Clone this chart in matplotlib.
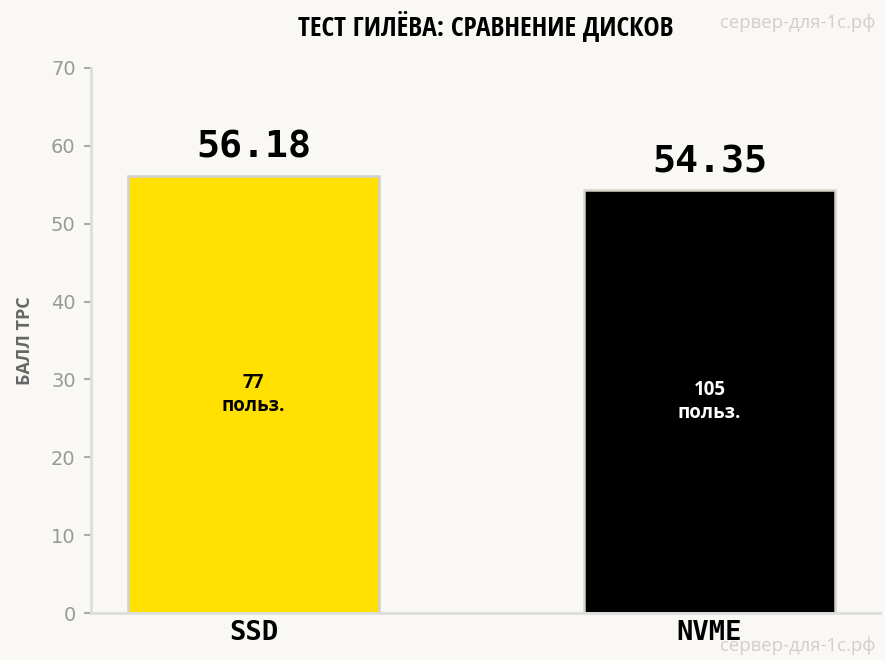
import matplotlib
matplotlib.use("Agg")
import matplotlib.pyplot as plt
from matplotlib import font_manager

# data
categories = ["SSD", "NVME"]
scores = [56.18, 54.35]
users = [77, 105]
bar_colors = ["#FFE000", "#000000"]
text_colors = ["#000000", "#FFFFFF"]
edge_colors = ["#cfcfcf", "#d6d3c9"]

bg = "#f9f8f5"
watermark = "сервер-для-1с.рф"

# pick a narrow face if one is installed
installed = {f.name for f in font_manager.fontManager.ttflist}
narrow = next((n for n in ["Liberation Sans Narrow", "Open Sans Condensed",
                           "DejaVu Sans Condensed", "Roboto Condensed"]
               if n in installed), "DejaVu Sans")
cond_stretch = [f for f in font_manager.fontManager.ttflist
                if f.name == "DejaVu Sans" and f.stretch == "condensed"]
if narrow == "DejaVu Sans" and not cond_stretch:
    narrow = "Roboto"

fig = plt.figure(figsize=(8.85, 6.6), dpi=100, facecolor=bg)
ax = fig.add_axes([0.1028, 0.0712, 0.8916, 0.8258])
ax.set_facecolor(bg)

x = list(range(len(categories)))
ax.bar(x, scores, width=0.55, color=bar_colors,
       edgecolor=edge_colors, linewidth=1.8, zorder=2)

for xi, s, u, tc in zip(x, scores, users, text_colors):
    ax.annotate(f"{s:.2f}", (xi, s), xytext=(0, 7), textcoords="offset points",
                ha="center", va="bottom", fontsize=27.5, fontweight="bold",
                family=["DejaVu Sans Mono"], color="#000000")
    ax.text(xi, s / 2, f"{u}\nпольз.", ha="center", va="center",
            fontsize=13.5, fontweight="bold", color=tc,
            family=["Open Sans", "DejaVu Sans"], linespacing=1.2)

ax.set_xlim(-0.356, 1.374)
ax.set_ylim(0, 70)
ax.set_yticks(range(0, 71, 10))
ax.set_xticks(x)
ax.set_xticklabels(categories, fontsize=19.5, fontweight="bold",
                   family=["DejaVu Sans Mono"])
for lbl in ax.get_yticklabels():
    lbl.set_fontsize(14)
    lbl.set_color("#999999")

ax.tick_params(axis="y", length=5, width=1.5, color="#aaaaaa", pad=6)
ax.tick_params(axis="x", length=0, pad=5)

for side in ["top", "right"]:
    ax.spines[side].set_visible(False)
for side in ["left", "bottom"]:
    ax.spines[side].set_color("#dedede")
    ax.spines[side].set_linewidth(2)

ax.set_ylabel("БАЛЛ TPC", fontsize=13, fontweight="bold", color="#666666",
              family=["Open Sans", "DejaVu Sans"], labelpad=12)
ax.set_title("ТЕСТ ГИЛЁВА: СРАВНЕНИЕ ДИСКОВ", fontsize=19.75, fontweight="bold",
             family=[narrow, "DejaVu Sans"], fontstretch="condensed", pad=23)

for ypos in [0.966, 0.022]:
    fig.text(0.989, ypos, watermark, ha="right", va="center", fontsize=13.3,
             color="#d0cfcb", family=["Open Sans", "DejaVu Sans"])

fig.savefig("out.png", dpi=100, facecolor=bg)
